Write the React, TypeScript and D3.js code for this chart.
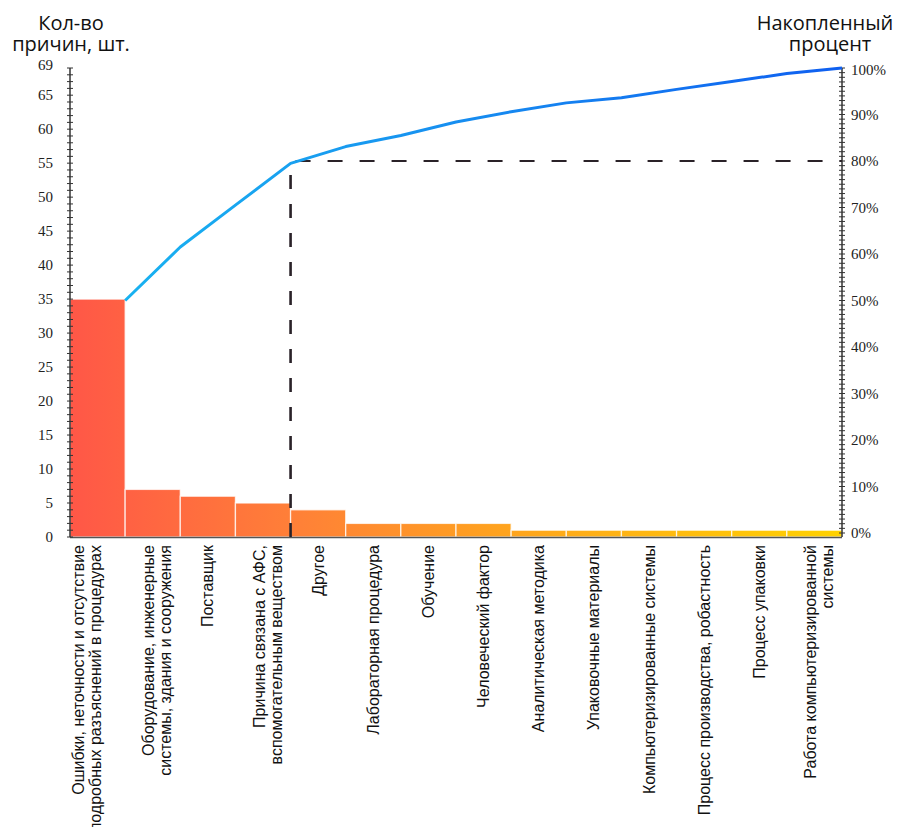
import React from "react";
import * as d3 from "d3";

// Pareto chart of root causes: counts per cause plus cumulative share.
const categories: string[] = [
  "Ошибки, неточности и отсутствие\nподробных разъяснений в процедурах",
  "Оборудование, инженерные\nсистемы, здания и сооружения",
  "Поставщик",
  "Причина связана с АФС,\nвспомогательным веществом",
  "Другое",
  "Лабораторная процедура",
  "Обучение",
  "Человеческий фактор",
  "Аналитическая методика",
  "Упаковочные материалы",
  "Компьютеризированные системы",
  "Процесс производства, робастность",
  "Процесс упаковки",
  "Работа компьютеризированной\nсистемы",
];

const counts: number[] = [35, 7, 6, 5, 4, 2, 2, 2, 1, 1, 1, 1, 1, 1];

// Cumulative percentage plotted at the right edge of each bar
const cumulativePct: number[] = [50, 61.5, 70.5, 79.5, 83.1, 85.5, 88.4, 90.6, 92.5, 93.6, 95.4, 97.1, 98.8, 100];

const countTicks: number[] = [0, 5, 10, 15, 20, 25, 30, 35, 40, 45, 50, 55, 60, 65, 69];
const pctTicks: number[] = [0, 10, 20, 30, 40, 50, 60, 70, 80, 90, 100];

const countMax = 69;
const thresholdPct = 80;
const thresholdIndex = 3;

const W = 905;
const H = 827;
const left = 70;
const right = 842;

export default function App() {
  const x = d3.scaleBand<string>().domain(categories).range([left, right]).padding(0);
  const yCount = d3.scaleLinear().domain([0, countMax]).range([537, 68]);
  const yPct = d3.scaleLinear().domain([0, 100]).range([533, 68]);

  const linePts: [number, number][] = cumulativePct.map((p, i) => [
    (x(categories[i]) as number) + x.bandwidth(),
    yPct(p),
  ]);
  const lineGen = d3.line<[number, number]>().x((d) => d[0]).y((d) => d[1]).curve(d3.curveLinear);

  const minorCount = d3.range(0, countMax + 1, 1);
  const minorPct = d3.range(0, 101, 1);

  const cutX = (x(categories[thresholdIndex]) as number) + x.bandwidth();
  const serifStyle = { fontFamily: "'Liberation Serif', 'Times New Roman', 'DejaVu Serif', serif" };
  const sans = "Liberation Sans, Arial, sans-serif";
  const titleFont = "Open Sans, Noto Sans, sans-serif";

  return (
    <svg
      width={W}
      height={H}
      viewBox={`0 0 ${W} ${H}`}
      style={{ position: "absolute", left: 0, top: 0, background: "#fff" }}
    >
      <defs>
        <linearGradient id="barFill" gradientUnits="userSpaceOnUse" x1={left} x2={right} y1={0} y2={0}>
          <stop offset="0" stopColor="#ff5747" />
          <stop offset="0.3" stopColor="#ff8137" />
          <stop offset="0.55" stopColor="#ffa21f" />
          <stop offset="1" stopColor="#ffd200" />
        </linearGradient>
        <linearGradient id="lineStroke" gradientUnits="userSpaceOnUse" x1={120} x2={right} y1={0} y2={0}>
          <stop offset="0" stopColor="#18b2f0" />
          <stop offset="0.35" stopColor="#1898f0" />
          <stop offset="1" stopColor="#0f5ff0" />
        </linearGradient>
      </defs>

      {/* Bars */}
      {counts.map((c, i) => (
        <rect
          key={i}
          x={x(categories[i]) as number}
          y={yCount(c)}
          width={x.bandwidth()}
          height={yCount(0) - yCount(c)}
          fill="url(#barFill)"
          stroke="rgba(255,255,255,0.75)"
          strokeWidth={1.3}
        />
      ))}

      {/* Bottom axis */}
      <line x1={left} x2={right} y1={537.5} y2={537.5} stroke="#555" strokeWidth={1.5} />

      {/* Left axis */}
      <line x1={left} x2={left} y1={yCount(0)} y2={yCount(countMax)} stroke="#333" strokeWidth={1.5} />
      {minorCount.map((v) => (
        <line key={v} x1={left - 3} x2={left + 3} y1={yCount(v)} y2={yCount(v)} stroke="#333" strokeWidth={1} />
      ))}
      {countTicks.map((v) => (
        <text
          key={v}
          x={53}
          y={yCount(v) - (v === countMax ? 3 : 0)}
          dy="0.35em"
          textAnchor="end"
          style={serifStyle}
          fontSize={15}
          fill="#222"
        >
          {v}
        </text>
      ))}

      {/* Right axis */}
      <line x1={right} x2={right} y1={537} y2={yPct(100)} stroke="#333" strokeWidth={1.5} />
      {minorPct.map((v) => (
        <line key={v} x1={right - 3} x2={right + 3} y1={yPct(v)} y2={yPct(v)} stroke="#333" strokeWidth={1} />
      ))}
      {pctTicks.map((v) => (
        <text
          key={v}
          x={851}
          y={yPct(v) + (v === 100 ? 2 : 0)}
          dy="0.35em"
          textAnchor="start"
          style={serifStyle}
          fontSize={15}
          fill="#222"
        >
          {v}%
        </text>
      ))}

      {/* 80% threshold guides */}
      <line
        x1={cutX}
        x2={right}
        y1={yPct(thresholdPct)}
        y2={yPct(thresholdPct)}
        stroke="#2a2228"
        strokeWidth={2}
        strokeDasharray="15 17"
        strokeDashoffset={-5}
      />
      <line
        x1={cutX}
        x2={cutX}
        y1={yPct(thresholdPct) + 14}
        y2={537}
        stroke="#2a2228"
        strokeWidth={2.6}
        strokeDasharray="14 15"
      />

      {/* Cumulative line */}
      <path d={lineGen(linePts) || ""} fill="none" stroke="url(#lineStroke)" strokeWidth={3} strokeLinejoin="round" />

      {/* Category labels */}
      {categories.map((cat, i) => {
        const lines = cat.split("\n");
        const cx = (x(cat) as number) + x.bandwidth() / 2;
        const nudge = i === 0 ? -15 : 0;
        const offsets = lines.length === 1 ? [0] : [-4, 13];
        return lines.map((ln, j) => (
          <text
            key={`${i}-${j}`}
            transform={`translate(${cx + offsets[j] + nudge},545) rotate(-90)`}
            dy="0.35em"
            textAnchor="end"
            fontFamily={sans}
            fontSize={16}
            fill="#111"
          >
            {ln}
          </text>
        ));
      })}

      {/* Axis titles */}
      <text x={71} y={30} textAnchor="middle" fontFamily={titleFont} fontSize={20} fill="#111">
        Кол-во
      </text>
      <text x={71} y={51} textAnchor="middle" fontFamily={titleFont} fontSize={20} fill="#111">
        причин, шт.
      </text>
      <text x={825} y={30} textAnchor="middle" fontFamily={titleFont} fontSize={20} fill="#111">
        Накопленный
      </text>
      <text x={830} y={51} textAnchor="middle" fontFamily={titleFont} fontSize={20} fill="#111">
        процент
      </text>
    </svg>
  );
}
